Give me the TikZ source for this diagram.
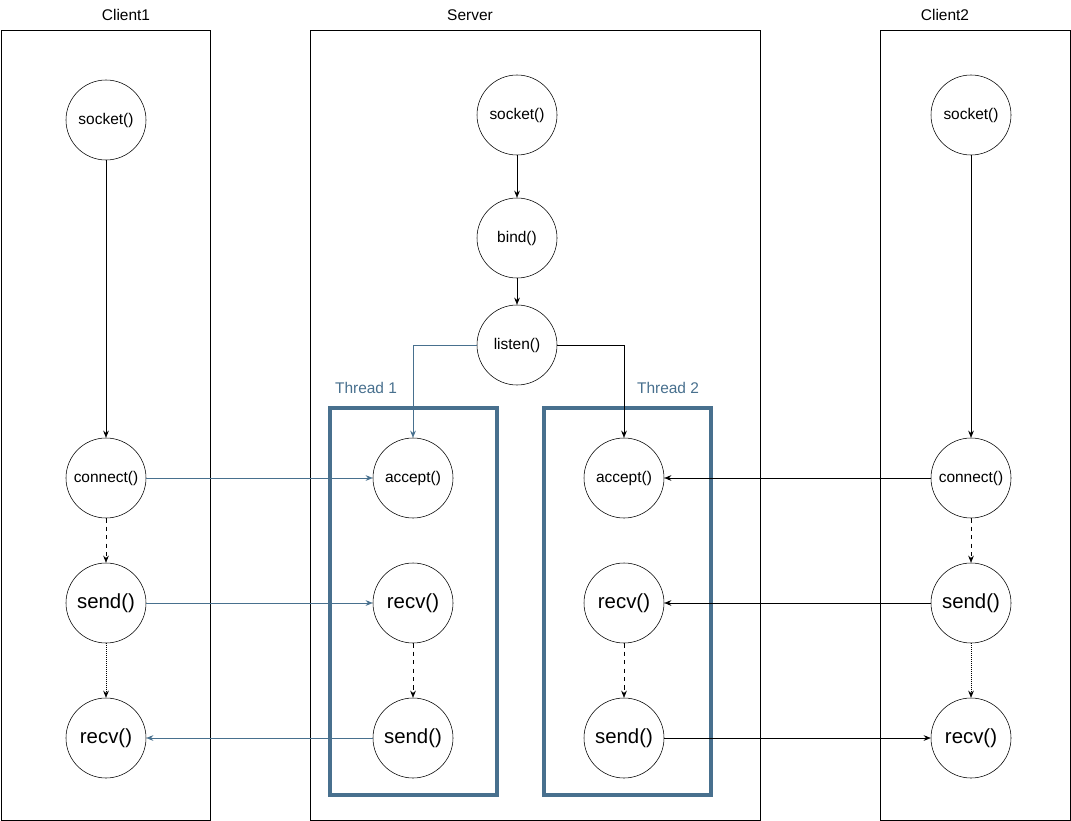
\documentclass[tikz,border=0pt]{standalone}
\usepackage{fontspec}
\setmainfont{Liberation Sans}
\usetikzlibrary{arrows.meta,positioning}
\definecolor{clrThread}{RGB}{72,112,142}
\tikzstyle{call}=[draw, circle, minimum size=80*0.025cm, inner sep=0pt, font=\fontsize{11}{13}\selectfont]
\tikzstyle{bigcall}=[call, font=\fontsize{14.5}{16}\selectfont]
\tikzstyle{lane}=[draw, thin]
\tikzstyle{thread}=[draw=clrThread, line width=2.2pt]
\tikzstyle{myarrow}=[-{Stealth[length=5pt,width=4pt]}, thin]
\tikzstyle{bluearrow}=[myarrow, draw=clrThread]
\tikzstyle{title}=[font=\fontsize{11}{13}\selectfont]

\begin{document}
\begin{tikzpicture}[x=0.025cm, y=-0.025cm]
		\useasboundingbox (0,0) rectangle (1071,821);

		% lanes
		\draw[lane] (1,30) rectangle (210,820);
		\draw[lane] (310,30) rectangle (760,820);
		\draw[lane] (880,30) rectangle (1070,820);
		\node[title] (t1) at (126,15) {Client1};
		\node[title] (t2) at (470,15) {Server};
		\node[title] (t3) at (945,15) {Client2};

		% threads
		\draw[thread] (330,408) rectangle (497,795);
		\draw[thread] (544,408) rectangle (711,795);
		\node[title, text=clrThread] (th1) at (366,388) {Thread 1};
		\node[title, text=clrThread] (th2) at (668,388) {Thread 2};

		% client 1
		\node[call] (c1sock) at (106,120) {socket()};
		\node[call] (c1conn) at (106,478) {connect()};
		\node[bigcall] (c1send) at (106,603) {send()};
		\node[bigcall] (c1recv) at (106,738) {recv()};
		\draw[myarrow] (c1sock) -- (c1conn);
		\draw[myarrow, dashed] (c1conn) -- (c1send);
		\draw[myarrow, densely dotted] (c1send) -- (c1recv);

		% server
		\node[call] (ssock) at (517,115) {socket()};
		\node[call] (sbind) at (517,238) {bind()};
		\node[call] (slist) at (517,345) {listen()};
		\draw[myarrow] (ssock) -- (sbind);
		\draw[myarrow] (sbind) -- (slist);

		\node[call] (a1) at (413,478) {accept()};
		\node[bigcall] (r1) at (413,603) {recv()};
		\node[bigcall] (s1) at (413,738) {send()};
		\draw[myarrow, dashed] (r1) -- (s1);

		\node[call] (a2) at (624,478) {accept()};
		\node[bigcall] (r2) at (624,603) {recv()};
		\node[bigcall] (s2) at (624,738) {send()};
		\draw[myarrow, dashed] (r2) -- (s2);

		\draw[bluearrow] (slist.west) -| (a1.north);
		\draw[myarrow] (slist.east) -| (a2.north);

		% client 2
		\node[call] (c2sock) at (971,115) {socket()};
		\node[call] (c2conn) at (971,478) {connect()};
		\node[bigcall] (c2send) at (971,603) {send()};
		\node[bigcall] (c2recv) at (971,738) {recv()};
		\draw[myarrow] (c2sock) -- (c2conn);
		\draw[myarrow, dashed] (c2conn) -- (c2send);
		\draw[myarrow, densely dotted] (c2send) -- (c2recv);

		% messages
		\draw[bluearrow] (c1conn) -- (a1);
		\draw[bluearrow] (c1send) -- (r1);
		\draw[bluearrow] (s1) -- (c1recv);
		\draw[myarrow] (c2conn) -- (a2);
		\draw[myarrow] (c2send) -- (r2);
		\draw[myarrow] (s2) -- (c2recv);
\end{tikzpicture}
\end{document}
